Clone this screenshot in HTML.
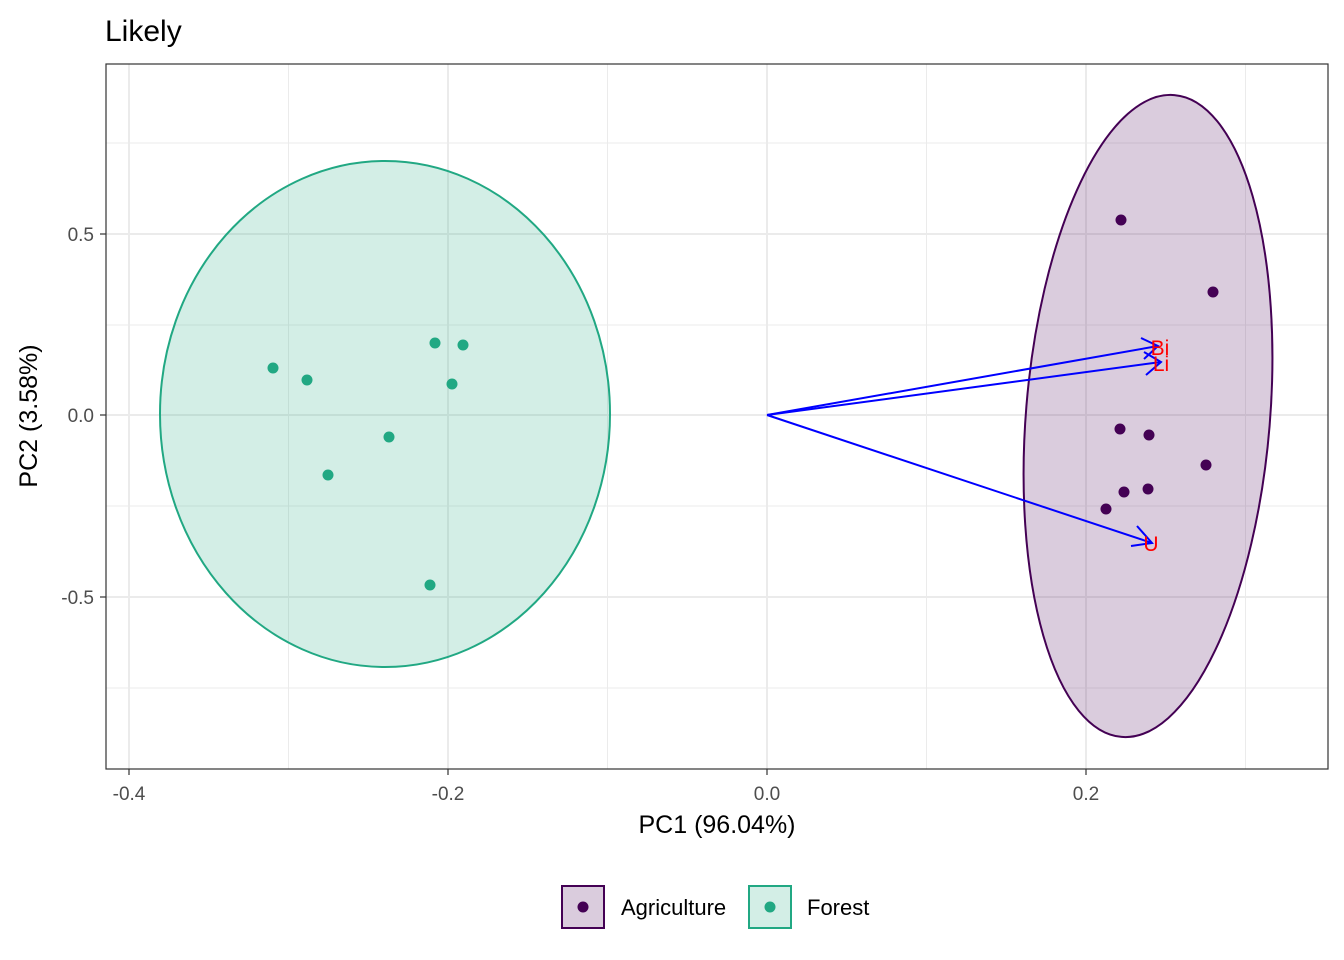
<!DOCTYPE html>
<html><head><style>body{margin:0;background:#fff}svg{display:block}</style></head><body>
<svg width="1344" height="960" xmlns="http://www.w3.org/2000/svg" font-family="Liberation Sans, sans-serif">
<rect width="1344" height="960" fill="#fff"/>
<g stroke="#ebebeb" stroke-width="1">
<line x1="288.5" y1="64" x2="288.5" y2="769"/><line x1="607.5" y1="64" x2="607.5" y2="769"/><line x1="926.5" y1="64" x2="926.5" y2="769"/><line x1="1245.5" y1="64" x2="1245.5" y2="769"/>
<line x1="106" y1="143" x2="1328" y2="143"/><line x1="106" y1="325" x2="1328" y2="325"/><line x1="106" y1="506" x2="1328" y2="506"/><line x1="106" y1="688" x2="1328" y2="688"/>
</g>
<g stroke="#ebebeb" stroke-width="2">
<line x1="129" y1="64" x2="129" y2="769"/><line x1="448" y1="64" x2="448" y2="769"/><line x1="767" y1="64" x2="767" y2="769"/><line x1="1086" y1="64" x2="1086" y2="769"/>
<line x1="106" y1="234" x2="1328" y2="234"/><line x1="106" y1="415" x2="1328" y2="415"/><line x1="106" y1="597" x2="1328" y2="597"/>
</g>
<ellipse cx="385" cy="414" rx="225" ry="253" fill="#21a883" fill-opacity="0.2" stroke="#21a883" stroke-width="2"/>
<ellipse cx="0" cy="0" rx="122" ry="322" transform="translate(1148,416) rotate(4.7)" fill="#440154" fill-opacity="0.2" stroke="#440154" stroke-width="2"/>
<g fill="#21a883">
<circle cx="273" cy="368" r="5.5"/><circle cx="307" cy="380" r="5.5"/><circle cx="328" cy="475" r="5.5"/><circle cx="389" cy="437" r="5.5"/><circle cx="435" cy="343" r="5.5"/><circle cx="463" cy="345" r="5.5"/><circle cx="452" cy="384" r="5.5"/><circle cx="430" cy="585" r="5.5"/>
</g>
<g fill="#440154">
<circle cx="1121" cy="220" r="5.5"/><circle cx="1213" cy="292" r="5.5"/><circle cx="1120" cy="429" r="5.5"/><circle cx="1149" cy="435" r="5.5"/><circle cx="1206" cy="465" r="5.5"/><circle cx="1148" cy="489" r="5.5"/><circle cx="1124" cy="492" r="5.5"/><circle cx="1106" cy="509" r="5.5"/>
</g>
<g stroke="#0000ff" stroke-width="2" fill="none">
<line x1="767" y1="415" x2="1158" y2="346"/><polyline points="1141,338 1158,346 1144,359"/>
<line x1="767" y1="415" x2="1161" y2="362"/><polyline points="1144,352 1161,362 1146,375"/>
<line x1="767" y1="415" x2="1152" y2="543"/><polyline points="1137,526 1152,543 1131,546"/>
</g>
<g fill="#ff0000" font-size="21" text-anchor="middle">
<text x="1160" y="355">Bi</text><text x="1161" y="371">Li</text><text x="1151" y="551">U</text>
</g>
<rect x="106" y="64" width="1222" height="705" fill="none" stroke="#333" stroke-width="1.2"/>
<g stroke="#333" stroke-width="1.2">
<line x1="129" y1="769" x2="129" y2="775"/><line x1="448" y1="769" x2="448" y2="775"/><line x1="767" y1="769" x2="767" y2="775"/><line x1="1086" y1="769" x2="1086" y2="775"/>
<line x1="100" y1="234" x2="106" y2="234"/><line x1="100" y1="415" x2="106" y2="415"/><line x1="100" y1="597" x2="106" y2="597"/>
</g>
<g fill="#4d4d4d" font-size="19" text-anchor="middle">
<text x="129" y="800">-0.4</text><text x="448" y="800">-0.2</text><text x="767" y="800">0.0</text><text x="1086" y="800">0.2</text>
</g>
<g fill="#4d4d4d" font-size="19" text-anchor="end">
<text x="94" y="241">0.5</text><text x="94" y="422">0.0</text><text x="94" y="604">-0.5</text>
</g>
<text x="717" y="833" font-size="25" text-anchor="middle">PC1 (96.04%)</text>
<text transform="translate(37,416) rotate(-90)" font-size="25" text-anchor="middle">PC2 (3.58%)</text>
<text x="105" y="41" font-size="30">Likely</text>
<rect x="562" y="886" width="42" height="42" fill="#440154" fill-opacity="0.2" stroke="#440154" stroke-width="2"/>
<circle cx="583" cy="907" r="5.5" fill="#440154"/>
<text x="621" y="915" font-size="22">Agriculture</text>
<rect x="749" y="886" width="42" height="42" fill="#21a883" fill-opacity="0.2" stroke="#21a883" stroke-width="2"/>
<circle cx="770" cy="907" r="5.5" fill="#21a883"/>
<text x="807" y="915" font-size="22">Forest</text>
</svg>
</body></html>
